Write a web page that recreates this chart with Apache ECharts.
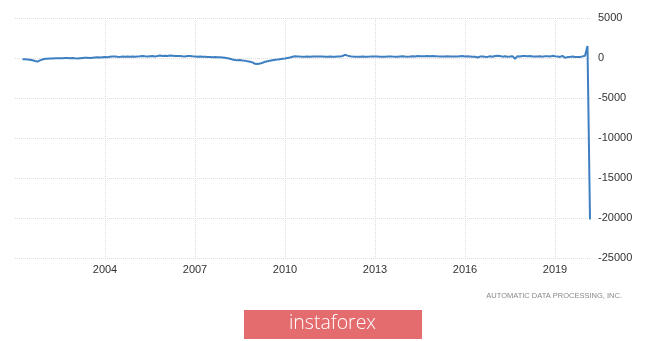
<!DOCTYPE html>
<html>
<head>
<meta charset="utf-8">
<script src="https://cdn.jsdelivr.net/npm/echarts@6/dist/echarts.min.js"></script>
<style>
html,body{margin:0;padding:0;background:#fff;}
#chart{width:665px;height:341px;}
</style>
</head>
<body>
<div id="chart"></div>
<script>
// Monthly ADP employment change (thousands), starting April 2001, ending March 2020
const startYear = 2001;
const startMonth = 4;
const values = [
  // 2001 Apr-Dec
  -160, -170, -180, -220, -280, -380, -450, -300, -180,
  // 2002
  -100, -80, -60, -50, -40, -30, -20, -40, -10, 0, -30, 0,
  // 2003
  -40, -60, -20, 0, 20, 30, 10, 40, 60, 80, 50, 90,
  // 2004
  120, 100, 150, 180, 200, 160, 140, 180, 150, 200, 170, 190,
  // 2005
  160, 200, 210, 250, 220, 200, 230, 260, 200, 240, 300, 260,
  // 2006
  280, 250, 300, 270, 240, 260, 250, 220, 200, 240, 260, 210,
  // 2007
  200, 170, 180, 150, 160, 130, 120, 100, 110, 80, 100, 60,
  // 2008
  20, -30, -100, -180, -250, -270, -260, -300, -330, -420, -460, -550,
  // 2009
  -720, -750, -700, -600, -480, -400, -330, -280, -230, -200, -150, -100,
  // 2010
  -60, 0, 60, 150, 220, 200, 180, 170, 160, 180, 170, 200,
  // 2011
  180, 200, 190, 180, 150, 170, 180, 160, 170, 190, 200, 250,
  // 2012
  400, 300, 220, 180, 170, 160, 170, 180, 160, 170, 180, 200,
  // 2013
  180, 200, 170, 150, 160, 190, 200, 180, 170, 160, 200, 220,
  // 2014
  180, 170, 190, 220, 200, 250, 220, 210, 230, 240, 220, 260,
  // 2015
  230, 210, 200, 180, 200, 230, 190, 180, 200, 190, 220, 250,
  // 2016
  200, 210, 190, 160, 170, 60, 180, 200, 150, 140, 210, 150,
  // 2017
  240, 270, 250, 170, 220, 160, 180, 230, -100, 230, 190, 250,
  // 2018
  240, 230, 240, 200, 190, 180, 220, 170, 230, 220, 180, 270,
  // 2019
  210, 180, 130, 270, 30, 110, 140, 190, 120, 130, 120, 200,
  // 2020 Jan-Mar
  290, 1500, -20200
];
const xTickYears = [2004, 2007, 2010, 2013, 2016, 2019];
const yTicks = [5000, 0, -5000, -10000, -15000, -20000, -25000];
const sourceText = 'AUTOMATIC DATA PROCESSING, INC.';
const logoText = 'instaforex';

// build time positions (decimal years) for each monthly value
const seriesData = values.map(function (v, i) {
  const m = startMonth - 1 + i;
  const year = startYear + Math.floor(m / 12);
  const month = m % 12;
  return [year + month / 12, v];
});

const chart = echarts.init(document.getElementById('chart'), null, {renderer: 'canvas'});
chart.setOption({
  backgroundColor: '#ffffff',
  animation: false,
  grid: {left: 15, right: 74, top: 18, height: 240, containLabel: false},
  xAxis: {
    type: 'value',
    min: 2001,
    max: 2020.2,
    interval: 3,
    axisLine: {show: false},
    axisTick: {show: false},
    axisLabel: {
      showMinLabel: false,
      showMaxLabel: false,
      margin: 6,
      color: '#333',
      fontSize: 11,
      fontFamily: 'Liberation Sans, Arial, sans-serif',
      formatter: function (v) { return xTickYears.indexOf(Math.round(v)) >= 0 ? String(Math.round(v)) : ''; }
    },
    splitLine: {
      show: true,
      showMinLine: false,
      showMaxLine: false,
      lineStyle: {color: '#dcdcdc', type: 'dotted', width: 1}
    }
  },
  yAxis: {
    type: 'value',
    position: 'right',
    min: yTicks[yTicks.length - 1],
    max: yTicks[0],
    interval: 5000,
    axisLine: {show: false},
    axisTick: {show: false},
    axisLabel: {
      margin: 7,
      color: '#333',
      fontSize: 11,
      fontFamily: 'Liberation Sans, Arial, sans-serif',
      formatter: function (v) { return String(v); }
    },
    splitLine: {
      show: true,
      lineStyle: {color: '#dcdcdc', type: 'dotted', width: 1}
    }
  },
  series: [{
    type: 'line',
    data: seriesData,
    showSymbol: false,
    symbol: 'none',
    clip: false,
    lineStyle: {color: '#3d7fc1', width: 2},
    itemStyle: {color: '#3d7fc1'}
  }],
  graphic: [
    {
      type: 'text',
      right: 43,
      top: 292,
      style: {
        text: sourceText,
        fill: '#888888',
        font: '7.5px "Liberation Sans", Arial, sans-serif'
      }
    },
    {
      type: 'rect',
      left: 244,
      top: 310,
      shape: {width: 178, height: 29},
      style: {fill: '#e46c6e'}
    },
    {
      type: 'text',
      left: 'center',
      top: 313,
      style: {
        text: logoText,
        fill: '#ffffff',
        font: '300 19.5px "Open Sans", sans-serif'
      }
    }
  ]
});
</script>
</body>
</html>
